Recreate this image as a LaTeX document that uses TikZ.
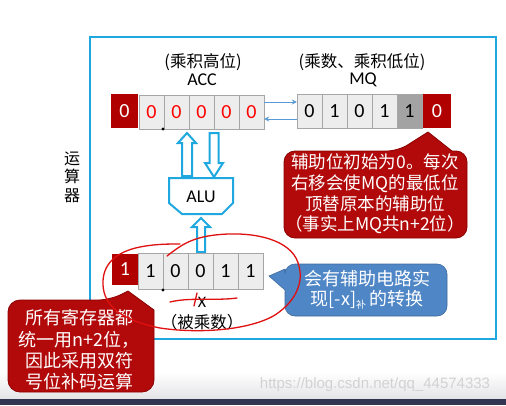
\documentclass[tikz,border=0pt]{standalone}
\usepackage{fontspec}
\setmainfont{Carlito}
\newfontfamily\cjk{Noto Sans CJK SC}
\newfontfamily\wmfont{Liberation Sans}
\usetikzlibrary{arrows.meta}
\definecolor{cellred}{HTML}{B00000}
\definecolor{callred}{HTML}{B20A0A}
\definecolor{callredline}{HTML}{8A0000}
\definecolor{cellgrey}{HTML}{EDEDED}
\definecolor{cellline}{HTML}{A6A6A6}
\definecolor{darkcell}{HTML}{A3A3A3}
\definecolor{frameblue}{HTML}{1FA8DF}
\definecolor{thinblue}{HTML}{5B9BD5}
\definecolor{callblue}{HTML}{4F86C6}
\definecolor{scrib}{HTML}{E01010}
\tikzset{
  cell/.style={draw=cellline, fill=cellgrey, minimum width=25, minimum height=34, inner sep=0,
    font=\fontsize{20}{22}\selectfont},
  redcell/.style={fill=cellred, minimum width=27, minimum height=34, inner sep=0, text=white,
    font=\fontsize{20}{22}\selectfont},
  lbl/.style={inner sep=0, font=\fontsize{18}{20}\selectfont},
  cjklbl/.style={inner sep=0, font=\fontsize{16.5}{19}\selectfont\cjk},
  hollow/.style={draw=frameblue, fill=white, line width=2, line join=miter},
  thinarrow/.style={draw=thinblue, line width=1, -{Stealth[length=5,width=5]}},
  calltext/.style={inner sep=0, text=white, align=center, font=\fontsize{17.5}{20.7}\selectfont\cjk},
  scribble/.style={draw=scrib, line width=1.3, line cap=round}
}
\begin{document}
\begin{tikzpicture}[x=1pt,y=-1pt]
\useasboundingbox (0,0) rectangle (506,405);
\fill[white] (0,0) rectangle (506,405);
% bottom strip
\shade[top color=white, bottom color=blue!8!gray!20] (0,372) rectangle (506,399);
\fill[black!80!blue!60!gray] (0,399) rectangle (506,405);

% frame
\draw[frameblue, line width=2.5] (90,37) rectangle (496,339);

% side label
\node[cjklbl, align=center, font=\fontsize{16}{18.5}\selectfont\cjk] (side) at (72,177) {运\\算\\器};

% ACC labels
\node[cjklbl] (acclbl) at (203,62) {(乘积高位)};
\node[lbl] (accname) at (202,80) {ACC};
\node[cjklbl] (mqlbl) at (362,62) {(乘数、乘积低位)};
\node[lbl] (mqname) at (363,80) {MQ};

% ACC register
\node[redcell] (acc0) at (124.5,111) {0};
\foreach \i/\x in {1/151.5,2/176.5,3/201.5,4/226.5,5/251.5}
  \node[cell, text=red] (acc\i) at (\x,112) {0};
\fill (163,129) circle (1.7);

% MQ register
\node[cell] (mq1) at (309.5,111.5) {0};
\node[cell] (mq2) at (334.5,111.5) {1};
\node[cell] (mq3) at (359.5,111.5) {0};
\node[cell] (mq4) at (384.5,111.5) {1};
\node[cell, fill=darkcell] (mq5) at (409.5,111.5) {1};
\node[redcell, minimum width=28] (mq6) at (437,111) {0};

% thin arrows between ACC and MQ
\draw[thinarrow] ([yshift=10]acc5.east) -- ([yshift=9.5]mq1.west);
\draw[thinarrow] ([yshift=-7.5]mq1.west) -- ([yshift=-7]acc5.east);

% ALU
\draw[frameblue, fill=white, line width=2] (169,178) -- (233,178) -- (233,203) -- (222,214) -- (182,214) -- (169,203) -- cycle;
\node[lbl] (alu) at (201,197) {ALU};

% hollow arrows
\draw[hollow] (187,133) -- (196,143) -- (192,143) -- (192,176) -- (182,176) -- (182,143) -- (178,143) -- cycle;
\draw[hollow] (214,177) -- (223,163) -- (218.5,163) -- (218.5,133) -- (209.5,133) -- (209.5,163) -- (205,163) -- cycle;
\draw[hollow] (201,218) -- (210,227) -- (205,227) -- (205,252) -- (197,252) -- (197,227) -- (192,227) -- cycle;

% X register
\node[redcell, minimum width=26, minimum height=31] (x0) at (125,269.5) {1};
\foreach \i/\x/\d in {1/150.5/1,2/175.5/0,3/200.5/0,4/225.5/1,5/250.5/1}
  \node[cell, minimum height=36] (x\i) at (\x,271) {\d};
\fill (163,290) circle (1.7);
\node[lbl, font=\fontsize{16}{18}\selectfont] (xname) at (202,302) {X};
\node[cjklbl] (xlbl) at (202,322) {（被乘数）};

% red callout (right)
\path[fill=callred, draw=callredline, line width=0.8]
  [rounded corners=11] (284,151) -- (398,151) [sharp corners] -- (428,132) -- (452,151)
  [rounded corners=11] -- (467,151) -- (467,238) -- (284,238) -- cycle;
\node[calltext] (note1) at (375,194) {辅助位初始为0。每次\\右移会使MQ的最低位\\顶替原本的辅助位\\（事实上MQ共n+2位）};

% blue callout
\path[fill=callblue, draw=callblue!80!black, line width=0.6]
  [rounded corners=10] (285,264) -- (447,264) -- (447,316) -- (285,316)
  [sharp corners] -- (285,290) -- (269,276) -- (285,269) [rounded corners=10] -- cycle;
\node[calltext, font=\fontsize{18}{20}\selectfont\cjk] (note2) at (367,290)
  {会有辅助电路实\\现[-\textit{x}]\raisebox{-3pt}{\fontsize{10}{10}\selectfont 补}\,的转换};

% red callout (bottom left)
\path[fill=callred, draw=callredline, line width=0.8]
  [rounded corners=12] (8,300) -- (110,300) [sharp corners] -- (128,291) -- (154,310)
  [rounded corners=12] -- (154,392) -- (8,392) -- cycle;
\node[calltext, font=\fontsize{18}{21.3}\selectfont\cjk] (note3) at (79,350)
  {所有寄存器都\\统一用n+2位，\\因此采用双符\\号位补码运算};

% handwritten scribbles
\draw[scribble] (167,256) .. controls (180,246) and (190,238) .. (215,235)
  .. controls (250,231) and (285,238) .. (296,258)
  .. controls (306,278) and (298,300) .. (275,315)
  .. controls (250,330) and (200,334) .. (160,328)
  .. controls (120,320) and (104,305) .. (103,285)
  .. controls (102,265) and (115,252) .. (140,247)
  .. controls (155,244) and (168,244) .. (180,244);
\draw[scribble] (170,302) .. controls (190,297) and (215,301) .. (237,298);
\draw[scribble] (197,293) -- (194,306);

% watermark
\node[inner sep=0, text=gray!35, font=\fontsize{15}{17}\selectfont\wmfont] (wm) at (375,385) {https://blog.csdn.net/qq\_44574333};
\end{tikzpicture}
\end{document}
